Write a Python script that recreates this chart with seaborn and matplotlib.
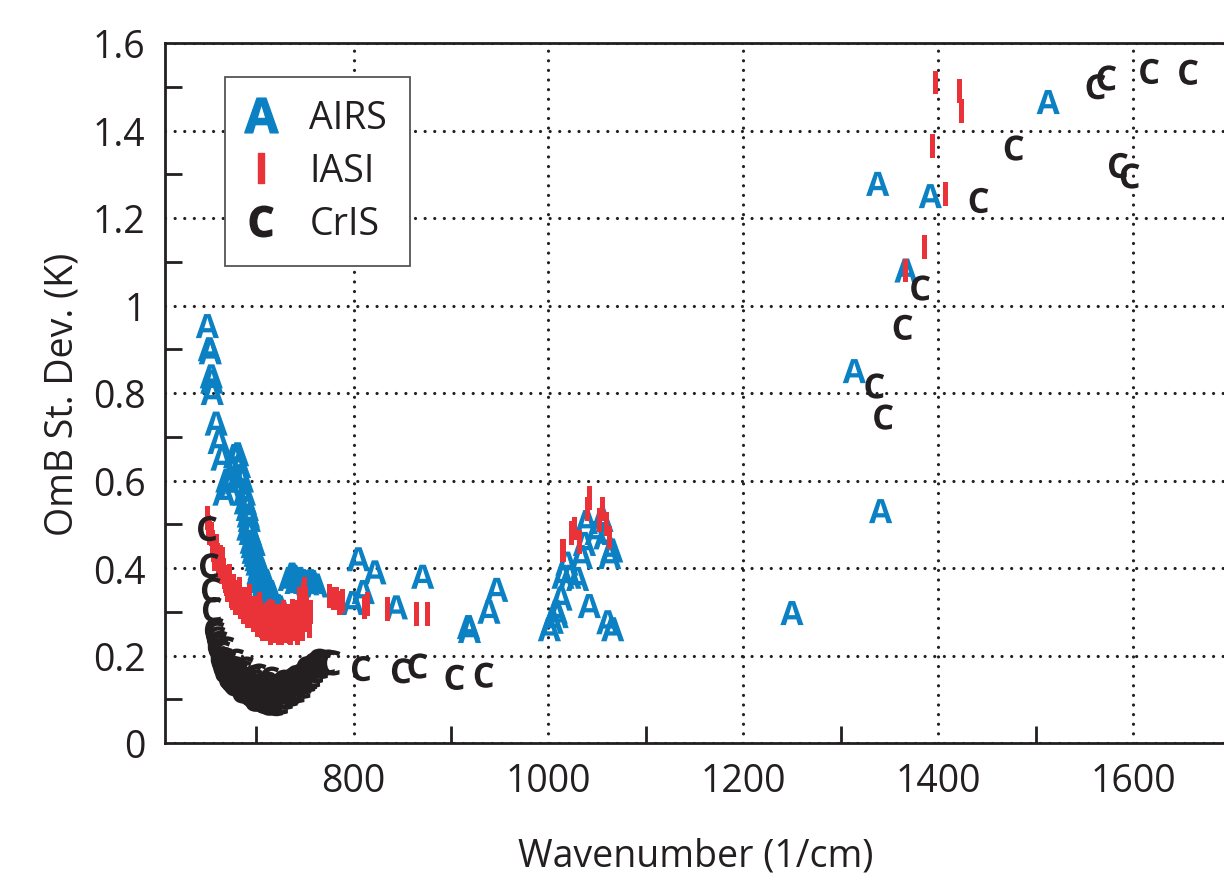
import numpy as np
import pandas as pd
import seaborn as sns
import matplotlib
matplotlib.use("Agg")
import matplotlib.pyplot as plt
from matplotlib.lines import Line2D
from matplotlib.ticker import FixedLocator, FixedFormatter

# Observation-minus-background standard deviation per channel
airs_wn = [650, 652, 653, 654, 654.5, 655, 659, 662, 665, 667, 670, 673, 676, 678, 680,
           681, 683, 684, 686, 688, 689, 691, 692, 693, 691.5, 694, 695, 696, 697, 698,
           699, 700, 701, 702, 703, 704, 705, 706, 707, 708, 709, 710, 711, 712, 713, 714,
           715, 716, 717, 718, 719, 720, 722, 724, 727, 734, 737, 739, 741, 743, 745, 748,
           750, 753, 756, 758, 762, 799, 805, 810, 822,
           844, 871, 918, 919, 939, 947, 1001, 1004, 1008, 1009, 1013, 1015, 1019, 1022,
           1030, 1034, 1037, 1039, 1042, 1049, 1055, 1058, 1061, 1063, 1065, 1066, 1250,
           1314, 1338, 1341, 1367, 1392, 1513]
airs_sd = [0.953, 0.900, 0.893, 0.838, 0.826, 0.800, 0.730, 0.688, 0.650, 0.570, 0.600,
           0.587, 0.620, 0.656, 0.596, 0.660, 0.633, 0.610, 0.600, 0.570, 0.550, 0.535,
           0.520, 0.510, 0.490, 0.480, 0.460, 0.450, 0.437, 0.455, 0.430, 0.420, 0.410,
           0.390, 0.400, 0.370, 0.395, 0.380, 0.355, 0.365, 0.345, 0.370, 0.352, 0.335,
           0.320, 0.340, 0.345, 0.310, 0.330, 0.320, 0.306, 0.300, 0.313, 0.310, 0.300,
           0.375, 0.385, 0.380, 0.368, 0.370, 0.375, 0.370, 0.368, 0.365, 0.370, 0.368,
           0.360, 0.320, 0.420, 0.345,
           0.390, 0.310, 0.380, 0.265, 0.256, 0.300, 0.350, 0.260, 0.277, 0.300, 0.290,
           0.330, 0.380, 0.410, 0.380, 0.375, 0.425, 0.455, 0.505, 0.313, 0.480, 0.510,
           0.470, 0.276, 0.425, 0.440, 0.260, 0.297, 0.850, 1.278, 0.530, 1.080, 1.250,
           1.465]

iasi_wn = [650, 651, 652, 654, 655, 656, 657, 658, 659, 660, 661, 662, 663, 664, 665, 666,
           667, 668, 669, 670, 671, 672, 673, 674, 675, 676, 677, 678, 679, 680, 682, 683,
           684, 685, 687, 688, 689, 690, 691, 693, 693.5, 695, 696, 697, 698, 699, 700,
           701, 703, 704, 705, 706, 707, 708, 709, 710, 711, 712, 713, 714, 715, 716, 717,
           718, 719, 720, 721, 722, 723, 724, 725, 726, 727, 728, 729, 730, 731, 732, 733,
           734, 735, 736, 737, 738, 739, 740, 741, 742, 743, 744, 745, 746, 747, 748, 749,
           750, 751, 752, 753, 754, 755, 756, 775, 779, 783, 786, 789,
           811, 814, 835, 865, 876, 1015, 1024, 1027, 1032, 1040, 1042, 1052, 1056, 1060,
           1063, 1367, 1386, 1394, 1397, 1408, 1422, 1424]
iasi_sd = [0.514, 0.495, 0.480, 0.478, 0.460, 0.440, 0.420, 0.445, 0.450, 0.430, 0.410,
           0.405, 0.425, 0.390, 0.420, 0.400, 0.395, 0.380, 0.370, 0.363, 0.350, 0.375,
           0.382, 0.350, 0.336, 0.330, 0.360, 0.340, 0.320, 0.345, 0.330, 0.352, 0.310,
           0.318, 0.300, 0.330, 0.310, 0.320, 0.290, 0.336, 0.300, 0.290, 0.310, 0.280,
           0.295, 0.310, 0.300, 0.270, 0.318, 0.285, 0.300, 0.267, 0.260, 0.290, 0.270,
           0.275, 0.260, 0.295, 0.280, 0.302, 0.250, 0.265, 0.300, 0.280, 0.270, 0.256,
           0.290, 0.275, 0.250, 0.290, 0.270, 0.250, 0.283, 0.300, 0.265, 0.280, 0.255,
           0.270, 0.290, 0.254, 0.250, 0.270, 0.302, 0.280, 0.260, 0.270, 0.285, 0.300,
           0.250, 0.260, 0.330, 0.270, 0.295, 0.260, 0.340, 0.352, 0.330, 0.310, 0.280,
           0.290, 0.267, 0.300, 0.336, 0.330, 0.330, 0.320, 0.325, 0.310, 0.317, 0.306,
           0.295, 0.295, 0.440, 0.480, 0.490, 0.460, 0.535, 0.560, 0.510, 0.535, 0.500,
           0.470, 1.080, 1.134, 1.365, 1.510, 1.255, 1.490, 1.445]

cris_wn = [650, 652, 654, 655, 657, 658, 659, 660, 661, 662, 663, 664, 665, 666, 667, 668,
           669, 670, 671, 672, 673, 674, 675, 676, 677, 678, 679, 680, 681, 682, 683, 684,
           685, 686, 687, 688, 689, 690, 691, 692, 693, 694, 695, 696, 697, 698, 699, 700,
           701, 702, 703, 704, 705, 706, 707, 708, 709, 710, 711, 712, 713, 714, 715, 716,
           717, 718, 719, 720, 721, 722, 723, 724, 725, 726, 727, 728, 729, 730, 731, 733,
           734, 735, 736, 737, 738, 739, 740, 741, 742, 743, 745, 746, 747, 748, 749, 751,
           752, 754, 755, 757, 758, 760, 761, 763, 765, 768, 772, 777,
           808, 849, 866, 904, 934, 1335, 1344, 1364, 1382, 1442, 1478, 1562, 1573, 1585,
           1597, 1617, 1657]
cris_sd = [0.490, 0.405, 0.350, 0.305, 0.258, 0.249, 0.238, 0.220, 0.228, 0.210, 0.192,
           0.205, 0.178, 0.190, 0.165, 0.215, 0.170, 0.180, 0.150, 0.160, 0.145, 0.165,
           0.140, 0.170, 0.135, 0.187, 0.160, 0.150, 0.140, 0.155, 0.130, 0.125, 0.119,
           0.160, 0.130, 0.169, 0.145, 0.125, 0.115, 0.140, 0.130, 0.110, 0.120, 0.150,
           0.140, 0.100, 0.115, 0.130, 0.153, 0.105, 0.110, 0.130, 0.120, 0.110, 0.095,
           0.120, 0.135, 0.100, 0.125, 0.091, 0.105, 0.146, 0.130, 0.110, 0.120, 0.100,
           0.090, 0.125, 0.115, 0.094, 0.130, 0.094, 0.105, 0.120, 0.139, 0.120, 0.105,
           0.135, 0.125, 0.130, 0.112, 0.115, 0.139, 0.145, 0.125, 0.140, 0.150, 0.120,
           0.135, 0.150, 0.146, 0.155, 0.130, 0.140, 0.160, 0.170, 0.145, 0.150, 0.169,
           0.155, 0.178, 0.165, 0.180, 0.187, 0.175, 0.182, 0.185, 0.183, 0.170, 0.165,
           0.176, 0.150, 0.155, 0.816, 0.745, 0.950, 1.040, 1.240, 1.360, 1.500, 1.520,
           1.320, 1.296, 1.535, 1.533]

instruments = ["AIRS", "IASI", "CrIS"]
x_ticks = [800, 1000, 1200, 1400, 1600]
y_ticks = [0, 0.2, 0.4, 0.6, 0.8, 1.0, 1.2, 1.4, 1.6]
y_tick_labels = ["0", "0.2", "0.4", "0.6", "0.8", "1", "1.2", "1.4", "1.6"]

colors = {"AIRS": "#0b80c3", "IASI": "#ea3338", "CrIS": "#231f20"}
letters = {"AIRS": r"$\mathbf{A}$", "IASI": r"$\mathbf{I}$", "CrIS": r"$\mathbf{C}$"}
glyph_area = {"AIRS": 300, "IASI": 290, "CrIS": 330}
ink = "#231f20"

df = pd.concat([
    pd.DataFrame({"wavenumber": airs_wn, "omb_sd": airs_sd, "instrument": "AIRS"}),
    pd.DataFrame({"wavenumber": iasi_wn, "omb_sd": iasi_sd, "instrument": "IASI"}),
    pd.DataFrame({"wavenumber": cris_wn, "omb_sd": cris_sd, "instrument": "CrIS"}),
], ignore_index=True)

sns.set_theme(style="white")
plt.rcParams["font.family"] = ["Open Sans", "DejaVu Sans"]
plt.rcParams["mathtext.fontset"] = "custom"
plt.rcParams["mathtext.rm"] = "Open Sans"
plt.rcParams["mathtext.it"] = "Open Sans:italic"
plt.rcParams["mathtext.bf"] = "Open Sans:bold"

fig = plt.figure(figsize=(12.24, 8.87), dpi=100)
ax = fig.add_axes([165 / 1224, 1 - 744 / 887, (1226 - 165) / 1224, 700 / 887])

sns.scatterplot(data=df, x="wavenumber", y="omb_sd", hue="instrument",
                style="instrument", size="instrument", hue_order=instruments,
                style_order=instruments, size_order=instruments, palette=colors,
                markers=letters, sizes=glyph_area, linewidth=0,
                legend=False, ax=ax, zorder=3)

ax.set_xlim(606.5, 1695.5)
ax.set_ylim(0, 1.6)

ax.xaxis.set_major_locator(FixedLocator(x_ticks))
ax.xaxis.set_minor_locator(FixedLocator([700, 900, 1100, 1300, 1500]))
ax.yaxis.set_major_locator(FixedLocator(y_ticks))
ax.yaxis.set_major_formatter(FixedFormatter(y_tick_labels))
ax.yaxis.set_minor_locator(FixedLocator([0.1, 0.3, 0.5, 0.7, 0.9, 1.1, 1.3, 1.5]))

ax.tick_params(which="major", length=0, labelsize=27, colors=ink)
ax.tick_params(axis="x", which="major", pad=14)
ax.tick_params(axis="y", which="major", pad=14)
ax.tick_params(which="minor", direction="in", length=12, width=2, color=ink,
               bottom=True, left=True)

ax.grid(True, which="major", color=ink, linestyle=(0, (0.01, 3.0)), linewidth=2.3,
        dash_capstyle="round")
for side in ["left", "bottom", "top", "right"]:
    ax.spines[side].set_color(ink)
    ax.spines[side].set_linewidth(2)
    ax.spines[side].set_zorder(4)

ax.set_xlabel("Wavenumber (1/cm)", fontsize=27, color=ink, labelpad=26)
ax.set_ylabel("OmB St. Dev. (K)", fontsize=27, color=ink, labelpad=8)

handles = [
    Line2D([], [], linestyle="none", marker=letters["AIRS"], color=colors["AIRS"], markersize=25),
    Line2D([], [], linestyle="none", marker=letters["IASI"], color=colors["IASI"], markersize=21),
    Line2D([], [], linestyle="none", marker=letters["CrIS"], color=colors["CrIS"], markersize=22),
]
leg = ax.legend(handles, instruments, loc="upper left",
                bbox_to_anchor=((225 - 165) / 1061, (744 - 78) / 700),
                borderaxespad=0, fontsize=27, frameon=True, fancybox=False,
                borderpad=0.6, labelspacing=0.4, handlelength=0.7, handletextpad=0.95,
                labelcolor=ink)
leg.get_frame().set_edgecolor("#555555")
leg.get_frame().set_linewidth(1.3)
leg.get_frame().set_facecolor("white")
leg.get_frame().set_alpha(1)
leg.set_zorder(5)

fig.savefig("out.png", dpi=100)
